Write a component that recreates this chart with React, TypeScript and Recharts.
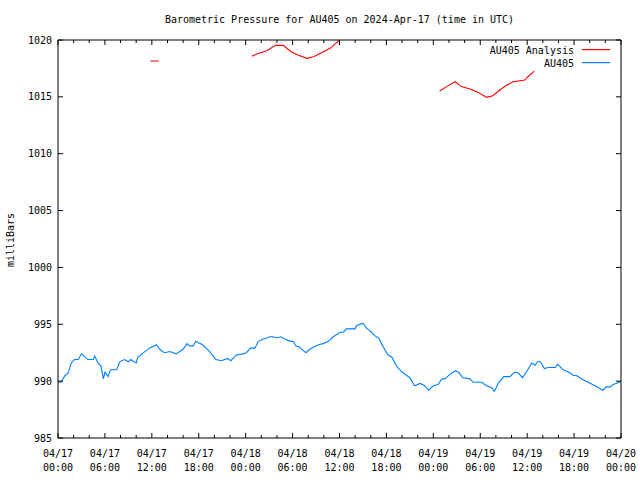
import React from 'react';
import { LineChart, Line, XAxis, YAxis, Legend } from 'recharts';

const FONT = "'DejaVu Sans Mono', 'Liberation Mono', monospace";

// AU405 observed pressure (hours since 2024-04-17 00:00 UTC, mb)
const blueHours = [
  0, 0.4, 0.9, 1.3, 1.7, 2.1, 2.6, 3.0, 3.8, 4.5, 4.7, 5.1, 5.5, 5.8, 6.0, 6.4, 6.7, 7.5, 7.9, 8.5,
  9.0, 9.3, 10.0, 10.2, 11.1, 11.7, 12.6, 13.0, 13.6, 14.3, 15.1, 16.0, 16.5, 16.8, 17.3, 17.6, 18.5, 19.4, 20.2, 20.9,
  21.7, 22.1, 22.8, 23.7, 24.1, 24.6, 25.2, 25.6, 26.3, 27.1, 27.5, 28.0, 28.5, 29.0, 29.7, 30.1, 30.4, 30.9, 31.2, 31.7,
  32.2, 32.7, 33.3, 33.9, 34.6, 35.2, 36.1, 36.5, 36.9, 38.0, 38.2, 39.0, 39.4, 40.1, 40.5, 41.0, 41.6, 42.2, 42.7, 43.3,
  44.0, 44.6, 45.0, 45.6, 46.3, 46.9, 47.4, 48.0, 48.6, 49.1, 49.5, 50.1, 50.8, 51.2, 51.8, 52.7, 53.1, 54.2, 54.8, 55.5,
  55.8, 56.3, 57.0, 57.8, 58.4, 58.9, 59.4, 59.9, 60.6, 61.0, 61.3, 61.7, 62.2, 62.7, 63.6, 63.9, 64.6, 65.3, 65.9, 66.3,
  67.2, 67.8, 68.9, 69.7, 70.1, 70.6, 71.0, 71.8, 72.0,
];
const blueValues = [
  989.9, 989.9, 990.5, 990.7, 991.6, 991.9, 991.9, 992.4, 991.9, 991.9, 992.2, 991.6, 991.3, 990.2, 990.8, 990.4, 991.0, 991.0, 991.7, 991.9,
  991.7, 991.9, 991.6, 992.1, 992.6, 992.9, 993.2, 992.8, 992.5, 992.6, 992.4, 992.8, 993.3, 993.1, 993.1, 993.5, 993.2, 992.6, 991.9, 991.8,
  992.0, 991.8, 992.3, 992.4, 992.5, 992.9, 992.9, 993.5, 993.7, 993.9, 993.9, 993.8, 993.9, 993.7, 993.5, 993.5, 993.1, 993.0, 992.8, 992.5,
  992.8, 993.0, 993.2, 993.3, 993.5, 993.9, 994.3, 994.3, 994.6, 994.6, 994.9, 995.1, 994.7, 994.3, 994.0, 993.8, 993.0, 992.3, 992.1, 991.3,
  990.8, 990.5, 990.3, 989.6, 989.8, 989.6, 989.2, 989.6, 989.7, 990.2, 990.2, 990.6, 990.9, 990.8, 990.3, 990.2, 989.9, 989.9, 989.6, 989.4,
  989.1, 989.8, 990.4, 990.4, 990.8, 990.7, 990.3, 990.8, 991.6, 991.4, 991.7, 991.7, 991.1, 991.2, 991.2, 991.5, 991.0, 990.8, 990.5, 990.5,
  990.1, 989.9, 989.5, 989.2, 989.5, 989.5, 989.7, 989.9, 990.0,
];

// AU405 Analysis (null = gap between segments)
const redHours = [
  11.8, 12.9, 18.0,
  24.8, 25.4, 26.7, 27.8, 28.8, 29.9, 30.7, 31.8, 32.7, 33.7, 34.8, 36.0, 42.0,
  48.8, 49.7, 50.8, 51.6, 52.7, 53.8, 54.8, 55.6, 56.5, 57.4, 58.2, 59.7, 60.1, 60.9,
];
const redValues: (number | null)[] = [
  1018.15, 1018.15, null,
  1018.57, 1018.77, 1019.06, 1019.53, 1019.53, 1018.92, 1018.68, 1018.39, 1018.53, 1018.88, 1019.27, 1020.0, null,
  1015.51, 1015.9, 1016.33, 1015.9, 1015.69, 1015.37, 1014.96, 1015.1, 1015.6, 1016.04, 1016.33, 1016.48, 1016.77, 1017.27,
];

const xTicks = [0, 2, 4, 6, 8, 10, 12, 14, 16, 18, 20, 22, 24, 26, 28, 30, 32, 34, 36, 38, 40, 42, 44, 46, 48, 50, 52, 54, 56, 58, 60, 62, 64, 66, 68, 70, 72];
const xMajorTicks = [0, 6, 12, 18, 24, 30, 36, 42, 48, 54, 60, 66, 72];
const xTickDates = ['04/17', '04/17', '04/17', '04/17', '04/18', '04/18', '04/18', '04/18', '04/19', '04/19', '04/19', '04/19', '04/20'];
const xTickTimes = ['00:00', '06:00', '12:00', '18:00', '00:00', '06:00', '12:00', '18:00', '00:00', '06:00', '12:00', '18:00', '00:00'];
const yTicks = [985, 990, 995, 1000, 1005, 1010, 1015, 1020];

const seriesNames = ['AU405 Analysis', 'AU405'];
const seriesColors = ['#ff0000', '#0080ff'];

const blueData = blueHours.map((h, i) => ({ h, v: blueValues[i] }));
const redData = redHours.map((h, i) => ({ h, v: redValues[i] }));

const BottomTick = (props: any) => {
  const { x, y, payload } = props;
  const idx = xMajorTicks.indexOf(payload.value);
  const major = idx >= 0;
  return (
    <g>
      <line x1={x} y1={y} x2={x} y2={y - (major ? 5 : 3)} stroke="#000" />
      {major && (
        <text x={x} y={y} textAnchor="middle" fontFamily={FONT} fontSize={10} fill="#000">
          <tspan x={x} dy={18.5}>{xTickDates[idx]}</tspan>
          <tspan x={x} dy={14}>{xTickTimes[idx]}</tspan>
        </text>
      )}
    </g>
  );
};

const TopTick = (props: any) => {
  const { x, y, payload } = props;
  const major = xMajorTicks.indexOf(payload.value) >= 0;
  return <line x1={x} y1={y} x2={x} y2={y + (major ? 5 : 3)} stroke="#000" />;
};

const LeftTick = (props: any) => {
  const { x, y, payload } = props;
  return (
    <g>
      <line x1={x} y1={y} x2={x + 5} y2={y} stroke="#000" />
      <text x={x - 6} y={y} dy={3.5} textAnchor="end" fontFamily={FONT} fontSize={10} fill="#000">
        {payload.value}
      </text>
    </g>
  );
};

const RightTick = (props: any) => {
  const { x, y } = props;
  return <line x1={x} y1={y} x2={x - 5} y2={y} stroke="#000" />;
};

const LegendContent = () => (
  <svg width={220} height={30} style={{ display: 'block' }}>
    {seriesNames.map((name, i) => (
      <g key={name}>
        <text x={174} y={10 + i * 13} dy={3.5} textAnchor="end" fontFamily={FONT} fontSize={10} fill="#000">
          {name}
        </text>
        <rect x={182} y={9 + i * 13} width={28} height={1.2} fill={seriesColors[i]} />
      </g>
    ))}
  </svg>
);

export default function App() {
  return (
    <div style={{ position: 'absolute', left: 0, top: 0, width: 640, height: 480, background: '#fff' }}>
      <LineChart width={640} height={480} margin={{ top: 0, right: 0, bottom: 0, left: 0 }}>
        <XAxis
          xAxisId={0}
          dataKey="h"
          type="number"
          domain={[0, 72]}
          ticks={xTicks}
          interval={0}
          orientation="bottom"
          height={42}
          tickSize={0}
          tickMargin={0}
          tickLine={false}
          axisLine={{ stroke: '#000' }}
          tick={<BottomTick />}
          allowDataOverflow
        />
        <XAxis
          xAxisId="top"
          dataKey="h"
          type="number"
          domain={[0, 72]}
          ticks={xTicks}
          interval={0}
          orientation="top"
          height={40}
          tickSize={0}
          tickMargin={0}
          tickLine={false}
          axisLine={{ stroke: '#000' }}
          tick={<TopTick />}
          allowDataOverflow
        />
        <YAxis
          yAxisId={0}
          type="number"
          domain={[985, 1020]}
          ticks={yTicks}
          interval={0}
          orientation="left"
          width={58}
          tickSize={0}
          tickMargin={0}
          tickLine={false}
          axisLine={{ stroke: '#000' }}
          tick={<LeftTick />}
          allowDataOverflow
        />
        <YAxis
          yAxisId="right"
          type="number"
          domain={[985, 1020]}
          ticks={yTicks}
          interval={0}
          orientation="right"
          width={19}
          tickSize={0}
          tickMargin={0}
          tickLine={false}
          axisLine={{ stroke: '#000' }}
          tick={<RightTick />}
          allowDataOverflow
        />
        <Legend
          layout="vertical"
          align="center"
          verticalAlign="middle"
          content={<LegendContent />}
          wrapperStyle={{ position: 'absolute', top: 40, left: 400, width: 220, height: 30 }}
        />
        <Line
          data={redData}
          dataKey="v"
          name={seriesNames[0]}
          stroke={seriesColors[0]}
          strokeWidth={1.1}
          dot={false}
          activeDot={false}
          connectNulls={false}
          type="linear"
          isAnimationActive={false}
        />
        <Line
          data={blueData}
          dataKey="v"
          name={seriesNames[1]}
          stroke={seriesColors[1]}
          strokeWidth={1.1}
          dot={false}
          activeDot={false}
          type="linear"
          isAnimationActive={false}
        />
        <text x={339.5} y={22.5} textAnchor="middle" fontFamily={FONT} fontSize={10} fill="#000">
          Barometric Pressure for AU405 on 2024-Apr-17 (time in UTC)
        </text>
        <text x={13.5} y={240} textAnchor="middle" fontFamily={FONT} fontSize={10} fill="#000" transform="rotate(-90 13.5 240)">
          milliBars
        </text>
      </LineChart>
    </div>
  );
}
